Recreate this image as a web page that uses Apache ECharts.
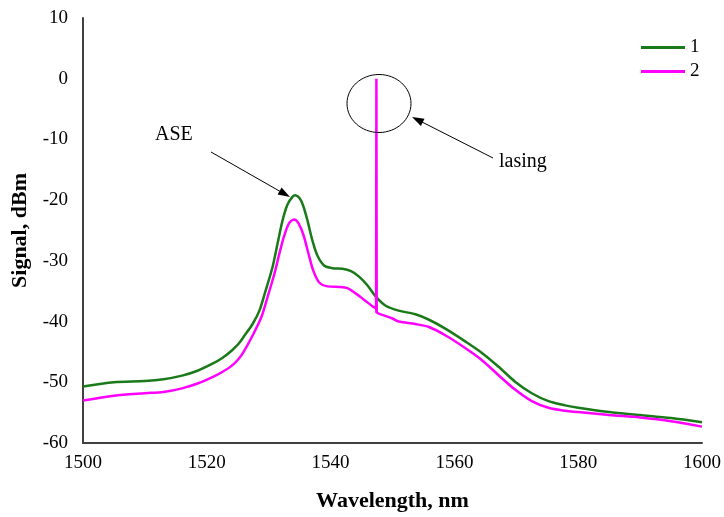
<!DOCTYPE html>
<html><head><meta charset="utf-8">
<script src="https://cdn.jsdelivr.net/npm/echarts@6/dist/echarts.min.js"></script>
<style>html,body{margin:0;padding:0;background:#fff}#c{width:724px;height:517px}</style>
</head><body><div id="c"></div>
<script>
const wl1 = [1500,1505,1510,1513,1516,1518.5,1521,1522.5,1524,1525.1,1526.1,1527.4,1528.5,1529.5,1530.6,1531.4,1532.2,1533.0,1533.8,1534.3,1535.0,1535.6,1536.3,1537.1,1537.9,1539.0,1540.3,1541.9,1543.3,1544.6,1546.0,1547.3,1548.9,1551.0,1553.7,1555.9,1558.6,1561.8,1564.5,1567.1,1569.8,1572.5,1575.2,1577.9,1580,1585,1590,1595,1600];
const sig1 = [-50.7,-50.0,-49.8,-49.5,-48.9,-48.1,-46.9,-46.0,-44.8,-43.7,-42.3,-40.4,-38.2,-34.9,-31.1,-27.3,-23.5,-20.8,-19.5,-19.2,-19.7,-21.0,-23.5,-26.8,-29.2,-30.8,-31.2,-31.3,-31.7,-32.6,-34.1,-35.9,-37.4,-38.2,-38.8,-39.7,-41.2,-43.3,-45.2,-47.4,-49.9,-51.8,-53.1,-53.8,-54.2,-54.9,-55.4,-55.9,-56.6];
const wl2 = [1500,1505,1510,1513,1516,1518.5,1521,1522.5,1524,1525.1,1526,1527.4,1528.8,1529.8,1530.9,1531.7,1532.5,1533.3,1534.1,1534.8,1535.6,1536.4,1537.2,1538.2,1539.5,1541.4,1542.7,1544.1,1545.4,1546.8,1547.35,1547.45,1547.8,1550,1551,1553.7,1555.9,1558.6,1561.8,1564.5,1567.1,1569.8,1572.5,1575.2,1577.9,1580,1585,1590,1595,1600];
const sig2 = [-53.0,-52.2,-51.8,-51.6,-51.0,-50.2,-49.1,-48.3,-47.3,-46.2,-44.9,-42.3,-39.3,-36.0,-32.2,-28.9,-25.9,-23.8,-23.2,-23.8,-25.7,-28.7,-31.6,-33.6,-34.2,-34.3,-34.5,-35.4,-36.4,-37.5,-37.9,-38.5,-38.7,-39.5,-40.0,-40.4,-40.9,-42.3,-44.4,-46.4,-48.8,-51.2,-53.1,-54.2,-54.7,-54.9,-55.4,-55.8,-56.4,-57.3];
const spikeWl = [1547.35,1547.4,1547.45];
const spikeSig = [-37.9,0,-38.5];
const xTicks = [1500,1520,1540,1560,1580,1600];
const yTicks = [-60,-50,-40,-30,-20,-10,0,10];
const names = ['1','2'];
const green = '#1a7a1a', magenta = '#ff00ff';
const zip = (a,b)=>a.map((v,i)=>[v,b[i]]);
const serif = '"Liberation Serif","Times New Roman",serif';
const chart = echarts.init(document.getElementById('c'));
const axisLine = {show:true,onZero:false,lineStyle:{color:'#404040',width:2}};
chart.setOption({
  animation:false,
  grid:{left:83,right:20,top:18,bottom:70,containLabel:false},
  legend:{orient:'vertical',left:636,top:33,itemWidth:44,itemHeight:3,itemGap:5,
    icon:'rect',data:names,textStyle:{fontFamily:serif,fontSize:19,color:'#000',padding:[0,0,0,0]}},
  xAxis:{type:'value',min:xTicks[0],max:xTicks[xTicks.length-1],interval:20,
    axisLine:axisLine,axisTick:{show:false},splitLine:{show:false},
    axisLabel:{fontFamily:serif,fontSize:19,color:'#000',margin:11,formatter:v=>String(v)},
    name:'Wavelength, nm',nameLocation:'middle',nameGap:47,
    nameTextStyle:{fontFamily:serif,fontSize:22,fontWeight:'bold',color:'#000'}},
  yAxis:{type:'value',min:yTicks[0],max:yTicks[yTicks.length-1],interval:10,
    axisLine:axisLine,axisTick:{show:false},splitLine:{show:false},
    axisLabel:{fontFamily:serif,fontSize:19,color:'#000',margin:15,formatter:v=>String(v)},
    name:'Signal, dBm',nameLocation:'middle',nameGap:48,
    nameTextStyle:{fontFamily:serif,fontSize:22,fontWeight:'bold',color:'#000'}},
  series:[
    {name:names[0],type:'line',data:zip(wl1,sig1),smooth:0.3,symbol:'none',lineStyle:{color:green,width:2.5},itemStyle:{color:green}},
    {name:names[1],type:'line',data:zip(wl2,sig2),smooth:0.3,symbol:'none',lineStyle:{color:magenta,width:2.5},itemStyle:{color:magenta}},
    {name:names[1],type:'line',data:zip(spikeWl,spikeSig),smooth:false,symbol:'none',lineStyle:{color:magenta,width:2.5},itemStyle:{color:magenta}}
  ],
  graphic:[
    {type:'ellipse',shape:{cx:379,cy:103.5,rx:32,ry:29},style:{fill:'none',stroke:'#000',lineWidth:1},z:10},
    {type:'line',shape:{x1:493,y1:158,x2:420,y2:121},style:{stroke:'#000',lineWidth:1},z:10},
    {type:'polygon',shape:{points:[[412,117],[424.5,118.8],[420.9,126.0]]},style:{fill:'#000'},z:10},
    {type:'line',shape:{x1:211,y1:152,x2:282,y2:192.5},style:{stroke:'#000',lineWidth:1},z:10},
    {type:'polygon',shape:{points:[[290,197],[277.6,194.6],[281.6,187.6]]},style:{fill:'#000'},z:10},
    {type:'text',left:155,top:125,style:{text:'ASE',font:'20px '+serif,fill:'#000'},z:10},
    {type:'text',left:499,top:152,style:{text:'lasing',font:'20px '+serif,fill:'#000'},z:10}
  ]
});
</script></body></html>
